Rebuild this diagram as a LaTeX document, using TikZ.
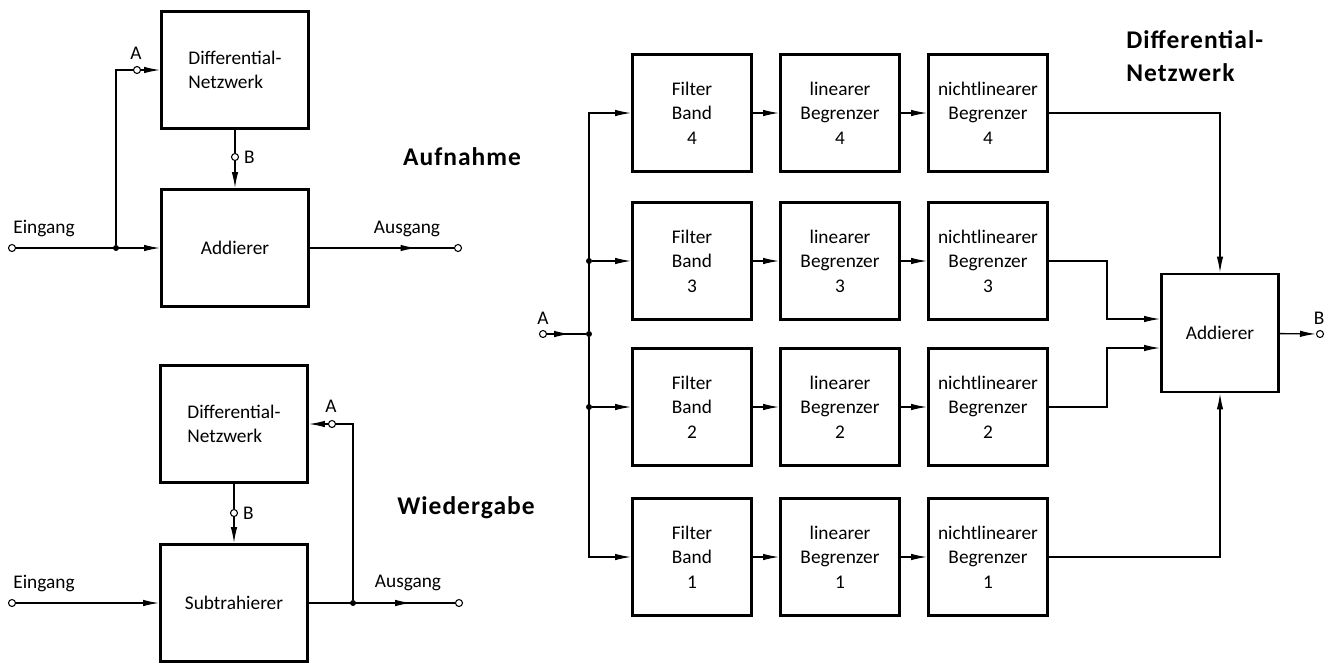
\documentclass[tikz,border=0pt]{standalone}
\usepackage{fontspec}
\setmainfont{Carlito}
\newfontfamily\ttlfont[LetterSpace=4]{Carlito}
\usetikzlibrary{arrows.meta,calc,decorations.markings}
\tikzset{
  blk/.style={draw,line width=1.6pt,align=center,font=\fontsize{11}{14}\selectfont,minimum width=2.38cm,minimum height=2.34cm,inner sep=2pt},
  wblk/.style={blk,align=left,minimum width=2.94cm},
  arr/.style={-{Latex[length=3.2mm,width=1.3mm]},line width=0.75pt},
  midarr/.style={line width=0.75pt,decoration={markings,mark=at position #1 with {\arrow{Latex[length=3.2mm,width=1.3mm]}}},postaction={decorate}},
  term/.style={circle,draw,fill=white,line width=0.6pt,inner sep=0pt,minimum size=1.4mm},
  jdot/.style={circle,fill,inner sep=0pt,minimum size=1.2mm},
  lbl/.style={font=\fontsize{11}{13}\selectfont,inner sep=1pt},
  ttl/.style={font=\ttlfont\bfseries\fontsize{14.5}{19}\selectfont,align=left,inner sep=0pt}
}
\begin{document}
\begin{tikzpicture}[x=0.02cm,y=-0.02cm]
\useasboundingbox (0,0) rectangle (1339,664);
% Aufnahme
\node[wblk] (dn1) at (235,70) {Differential-\\Netzwerk};
\node[wblk] (add1) at (235,248) {Addierer};
\node[term] (in1) at (12,248) {};
\node[jdot] (j1) at (116,248) {};
\node[term] (ta1) at (137,70) {};
\node[term] (tb1) at (235,157) {};
\node[term] (out1) at (458,248) {};
\node[lbl] (ein1) at (44,229) {Eingang};
\node[lbl] (aus1) at (407,229) {Ausgang};
\node[lbl] (la1) at (136,53) {A};
\node[lbl,anchor=west] (lb1) at (242,157) {B};
\node[ttl] (auf) at (462,157) {Aufnahme};
\draw[arr] (in1) -- (add1);
\draw[line width=0.75pt] (j1) |- (ta1);
\draw[arr] (ta1) -- (dn1);
\draw[line width=0.75pt] (dn1) -- (tb1);
\draw[arr] (tb1) -- (add1);
\draw[midarr=0.74] (add1) -- (out1);
% Wiedergabe
\node[wblk] (dn2) at (234,424) {Differential-\\Netzwerk};
\node[wblk] (sub2) at (234,603) {Subtrahierer};
\node[term] (in2) at (12,603) {};
\node[term] (tb2) at (234,513) {};
\node[term] (ta2) at (332,424) {};
\node[jdot] (j2) at (353,603) {};
\node[term] (out2) at (459,603) {};
\node[lbl] (ein2) at (44,583) {Eingang};
\node[lbl] (aus2) at (408,583) {Ausgang};
\node[lbl] (la2) at (331,406) {A};
\node[lbl,anchor=west] (lb2) at (241,513) {B};
\node[ttl] (wdg) at (466,508) {Wiedergabe};
\draw[arr] (in2) -- (sub2);
\draw[line width=0.75pt] (dn2) -- (tb2);
\draw[arr] (tb2) -- (sub2);
\draw[line width=0.75pt] (ta2) -| (j2);
\draw[arr] (ta2) -- (dn2);
\draw[midarr=0.7] (sub2) -- (out2);
% Differential-Netzwerk, 4 Baender
\node[blk] (f4) at (692,113) {Filter\\Band\\4};
\node[blk] (l4) at (840,113) {linearer\\Begrenzer\\4};
\node[blk] (n4) at (988,113) {nichtlinearer\\Begrenzer\\4};
\node[blk] (f3) at (692,261) {Filter\\Band\\3};
\node[blk] (l3) at (840,261) {linearer\\Begrenzer\\3};
\node[blk] (n3) at (988,261) {nichtlinearer\\Begrenzer\\3};
\node[blk] (f2) at (692,407) {Filter\\Band\\2};
\node[blk] (l2) at (840,407) {linearer\\Begrenzer\\2};
\node[blk] (n2) at (988,407) {nichtlinearer\\Begrenzer\\2};
\node[blk] (f1) at (692,557) {Filter\\Band\\1};
\node[blk] (l1) at (840,557) {linearer\\Begrenzer\\1};
\node[blk] (n1) at (988,557) {nichtlinearer\\Begrenzer\\1};
\node[blk,minimum width=2.34cm,minimum height=2.36cm] (add3) at (1220,333) {Addierer};
\node[term] (ta3) at (543,334) {};
\node[jdot] (ja) at (589,334) {};
\node[jdot] (j3) at (589,261) {};
\node[jdot] (j2r) at (589,407) {};
\node[term] (tb3) at (1320,334) {};
\node[lbl] (la3) at (543,318) {A};
\node[lbl] (lb3) at (1319,318) {B};
\node[ttl,anchor=north west] (dnt) at (1126,30) {Differential-\\Netzwerk};
\draw[midarr=0.6] (ta3) -- (ja);
\draw[arr] (ja) |- (f4);
\draw[arr] (ja) |- (f1);
\draw[arr] (j3) -- (f3);
\draw[arr] (j2r) -- (f2);
\draw[arr] (f4) -- (l4);
\draw[arr] (l4) -- (n4);
\draw[arr] (f3) -- (l3);
\draw[arr] (l3) -- (n3);
\draw[arr] (f2) -- (l2);
\draw[arr] (l2) -- (n2);
\draw[arr] (f1) -- (l1);
\draw[arr] (l1) -- (n1);
\draw[arr] (n4) -| (add3);
\draw[arr] (n1) -| (add3);
\draw[arr] (n3.east) -- ++(58,0) |- ($(add3.west)+(0,-14)$);
\draw[arr] (n2.east) -- ++(58,0) |- ($(add3.west)+(0,15)$);
\draw[arr] (add3) -- (tb3);
\end{tikzpicture}
\end{document}
